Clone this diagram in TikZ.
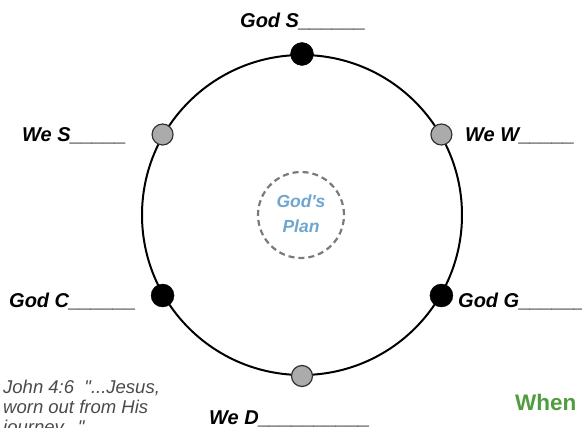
\documentclass[tikz,border=0pt]{standalone}
\usepackage{fontspec}
\setmainfont{Liberation Sans}[Ligatures=TeXOff]
\definecolor{plangray}{HTML}{7A7A7A}
\definecolor{planblue}{HTML}{6FA6CF}
\definecolor{dotgray}{HTML}{ABABAB}
\definecolor{notegray}{HTML}{4A4A4A}
\definecolor{whengreen}{HTML}{4F9D3F}
\begin{document}
\begin{tikzpicture}[x=1pt,y=-1pt,
  lbl/.style={anchor=base west,inner sep=0pt,font=\fontsize{20}{23}\selectfont\bfseries\itshape},
  goddot/.style={circle,fill=black,draw=black,minimum size=23pt,inner sep=0pt},
  wedot/.style={circle,fill=dotgray,draw=black!80,line width=1.2pt,minimum size=21pt,inner sep=0pt},
  note/.style={anchor=base west,inner sep=0pt,font=\fontsize{18.5}{20}\selectfont\itshape,text=notegray}]
\useasboundingbox (0,0) rectangle (582,428);
\node[circle,draw=black,line width=2pt,minimum size=320pt,inner sep=0pt] (ring) at (302,215) {};
\node[circle,draw=plangray,dashed,dash pattern=on 6pt off 4pt,line width=2.2pt,minimum size=86pt,inner sep=0pt] (plan) at (301,215) {};
\node[font=\fontsize{17.5}{25}\selectfont\bfseries\itshape,text=planblue,align=center,inner sep=0pt] (plantext) at (301,214) {God's\\Plan};
\node[goddot] (gs) at (ring.90) {};
\node[wedot] (ws) at (ring.150) {};
\node[wedot] (ww) at (ring.30) {};
\node[goddot] (gc) at (ring.210) {};
\node[goddot] (gg) at (ring.330) {};
\node[wedot] (wd) at (ring.270) {};
\node[lbl] (lgs) at (240,27.5) {God S\_\_\_\_\_\_};
\node[lbl] (lws) at (22,142) {We S\_\_\_\_\_};
\node[lbl] (lww) at (465,142) {We W\_\_\_\_\_};
\node[lbl] (lgc) at (9,307) {God C\_\_\_\_\_\_};
\node[lbl] (lgg) at (458,307) {God G\_\_\_\_\_\_};
\node[lbl] (lwd) at (209,424) {We D\_\_\_\_\_\_\_\_\_\_};
\node[note] (n1) at (3,393) {John 4:6\ \ "...Jesus,};
\node[note] (n2) at (3,413) {worn out from His};
\node[note] (n3) at (3,433) {journey..."};
\node[anchor=base west,inner sep=0pt,font=\fontsize{22.5}{26}\selectfont\bfseries,text=whengreen] (when) at (515,410.5) {When};
\end{tikzpicture}
\end{document}
